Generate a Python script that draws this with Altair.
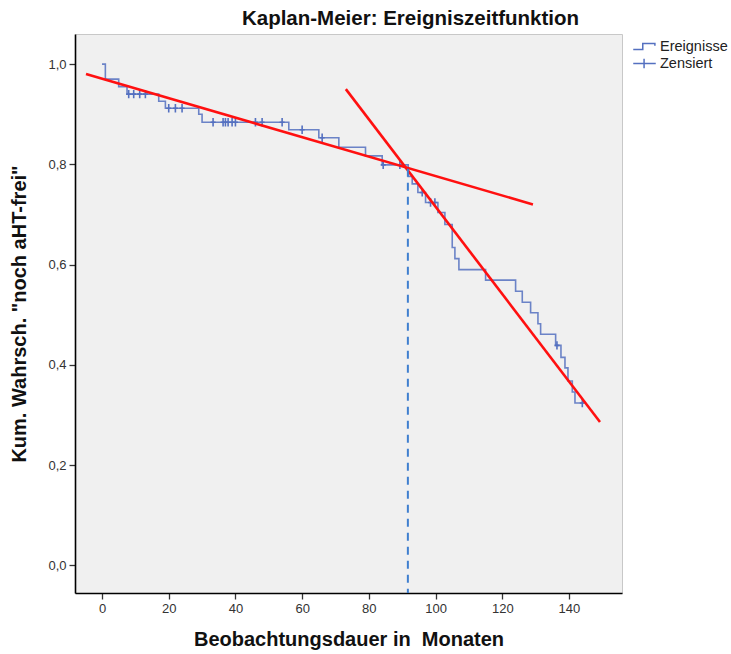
import altair as alt
import pandas as pd

# Kaplan-Meier step curve (months, cumulative survival)
step_t = [0, 1, 5, 7.5, 17, 19, 29, 30, 56, 65, 71, 79, 84, 91.8, 93, 94.7, 97, 100.7,
          102.8, 105, 105.8, 107, 115, 124, 126, 128.5, 130.7, 131.5, 136, 137.6,
          138.8, 139.7, 141, 141.8, 144.5]
step_s = [1.0, 0.970, 0.955, 0.940, 0.926, 0.912, 0.900, 0.884, 0.869, 0.853, 0.834,
          0.817, 0.799, 0.776, 0.761, 0.744, 0.724, 0.704, 0.680, 0.634, 0.612, 0.590,
          0.569, 0.547, 0.525, 0.504, 0.482, 0.461, 0.439, 0.415, 0.394, 0.368, 0.346,
          0.324, 0.324]

# censored observations
cens_t = [8, 9.5, 11.3, 13, 20, 22, 24, 33.3, 36.3, 37, 37.8, 39, 40, 46, 48, 54,
          60, 66, 84.3, 89.3, 96, 98.5, 99.8, 136.4, 144]
cens_s = [0.940, 0.940, 0.940, 0.940, 0.912, 0.912, 0.912, 0.884, 0.884, 0.884, 0.884,
          0.884, 0.884, 0.884, 0.884, 0.884, 0.869, 0.853, 0.799, 0.799, 0.744, 0.724,
          0.724, 0.439, 0.324]

# red trend lines
line1_t = [-4.8, 129.2]
line1_s = [0.980, 0.720]
line2_t = [73.1, 149.3]
line2_s = [0.950, 0.286]

# dashed vertical marker
vline_t = [91.7]
vline_s_top = [0.791]
vline_s_bottom = [-0.055]

legend_items = ["Ereignisse", "Zensiert"]

BLUE = "#5470c0"
X_DOM = [-8.1, 155.9]
Y_DOM = [-0.055, 1.06]

x_scale = alt.Scale(domain=X_DOM, nice=False, zero=False)
y_scale = alt.Scale(domain=Y_DOM, nice=False, zero=False)

x_axis = alt.Axis(values=[0, 20, 40, 60, 80, 100, 120, 140],
                  title="Beobachtungsdauer in\u00a0 Monaten",
                  grid=False, titlePadding=14)
y_axis = alt.Axis(values=[0, 0.2, 0.4, 0.6, 0.8, 1.0], title="Kum. Wahrsch. \"noch aHT-frei\"",
                  grid=False, labelExpr="replace(format(datum.value, '.1f'), '.', ',')",
                  titlePadding=18)

step_df = pd.DataFrame({"t": step_t, "s": step_s})
cens_df = pd.DataFrame({"t": cens_t, "s": cens_s})
l1_df = pd.DataFrame({"t": line1_t, "s": line1_s})
l2_df = pd.DataFrame({"t": line2_t, "s": line2_s})
v_df = pd.DataFrame({"t": vline_t, "s": vline_s_top, "s2": vline_s_bottom})
leg_df = pd.DataFrame({"t": [None, None], "s": [None, None], "grp": legend_items})

step = alt.Chart(step_df).mark_line(interpolate="step-after", color=BLUE, strokeWidth=1.6, opacity=0.85).encode(
    x=alt.X("t:Q", scale=x_scale, axis=x_axis),
    y=alt.Y("s:Q", scale=y_scale, axis=y_axis),
)

cens = alt.Chart(cens_df).mark_point(shape="M0,-1V1M-0.6,0H0.6", size=70, filled=False,
                                      color=BLUE, strokeWidth=1.6, opacity=1).encode(
    x=alt.X("t:Q", scale=x_scale),
    y=alt.Y("s:Q", scale=y_scale),
)

vline = alt.Chart(v_df).mark_rule(color="#3f7fcf", strokeWidth=2, strokeDash=[8, 6]).encode(
    x=alt.X("t:Q", scale=x_scale),
    y=alt.Y("s:Q", scale=y_scale),
    y2="s2:Q",
)

red1 = alt.Chart(l1_df).mark_line(color="#ff1010", strokeWidth=2.6).encode(
    x=alt.X("t:Q", scale=x_scale), y=alt.Y("s:Q", scale=y_scale))
red2 = alt.Chart(l2_df).mark_line(color="#ff1010", strokeWidth=2.6).encode(
    x=alt.X("t:Q", scale=x_scale), y=alt.Y("s:Q", scale=y_scale))

leg = alt.Chart(leg_df).mark_point(filled=False, color=BLUE, size=300, strokeWidth=1.5).encode(
    x=alt.X("t:Q", scale=x_scale),
    y=alt.Y("s:Q", scale=y_scale),
    shape=alt.Shape("grp:N",
                    scale=alt.Scale(domain=legend_items,
                                    range=["M-1.3,0.35H-0.2V-0.35H1.2V-0.1",
                                           "M-1.3,0H1.3M-0.05,-0.55V0.55"]),
                    legend=alt.Legend(title=None, orient="none", legendX=560, legendY=3,
                                      symbolSize=300, symbolStrokeColor=BLUE,
                                      symbolFillColor="transparent", symbolStrokeWidth=1.5,
                                      symbolOpacity=1,
                                      labelFontSize=14.5, labelColor="#222",
                                      labelFont="Liberation Sans", rowPadding=1,
                                      labelOffset=6)),
)

chart = alt.layer(step, cens, red1, red2, vline, leg).properties(
    width=547,
    height=559,
    title=alt.TitleParams("Kaplan-Meier: Ereigniszeitfunktion", fontSize=20.5, fontWeight="bold",
                          font="Liberation Sans", color="#111", anchor="middle", dx=62, offset=5),
    background="white",
    padding={"left": 75, "top": 34, "right": 109, "bottom": 61},
    autosize=alt.AutoSizeParams(type="none"),
).configure_view(
    fill="#f0f0f0", stroke="#c8c8c8", strokeWidth=1
).configure_axis(
    domainColor="#000", domainWidth=1.6, tickColor="#333", tickWidth=1.3, tickSize=6,
    labelFont="Liberation Sans", labelFontSize=13, labelColor="#333", labelPadding=3,
    titleFont="Liberation Sans", titleFontSize=20, titleFontWeight="bold", titleColor="#111",
)

chart.save("out.html", embed_options={"renderer": "svg", "actions": False})
